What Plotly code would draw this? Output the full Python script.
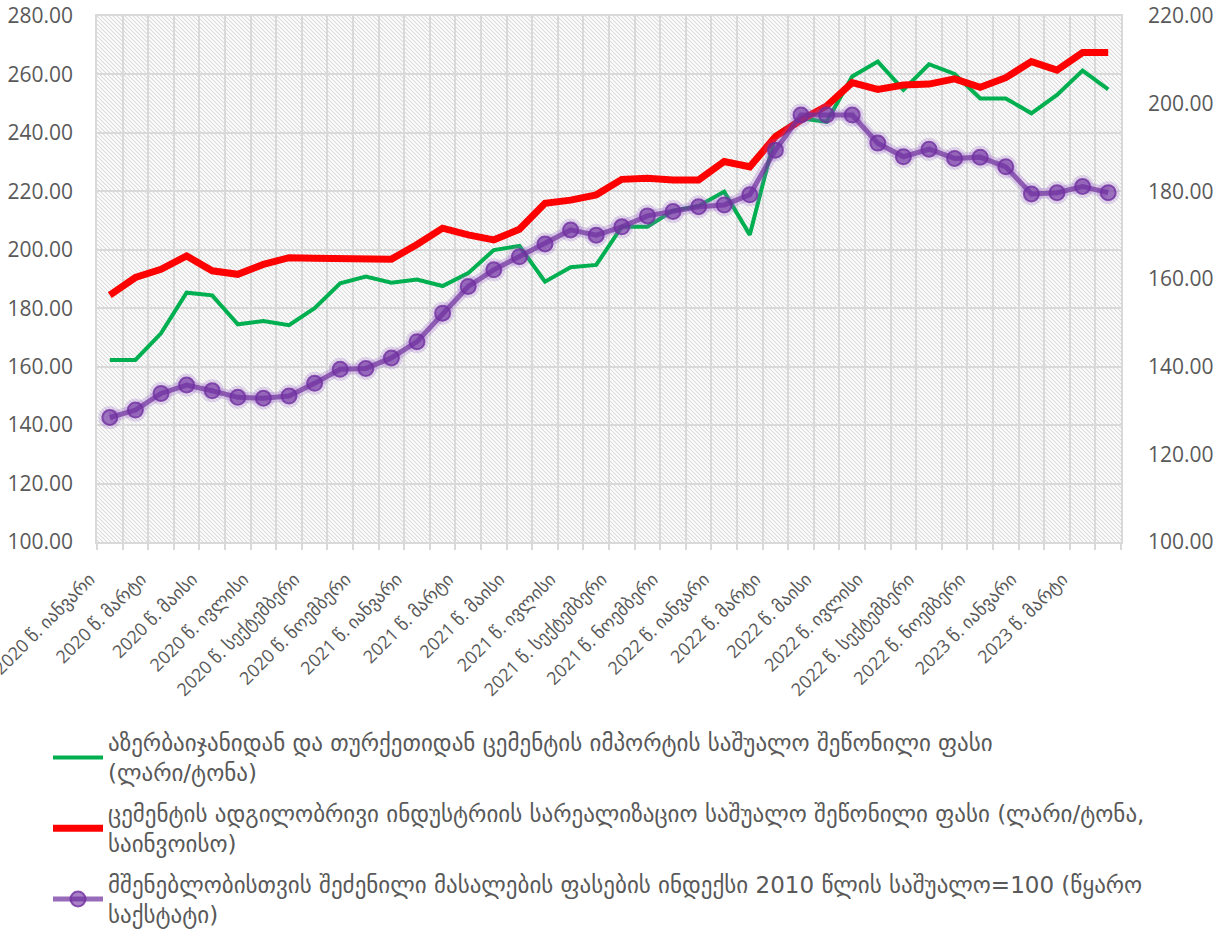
import base64
import plotly.graph_objects as go

# ---------------- data ----------------
years = [2020, 2021, 2022, 2023]
month_names = ["იანვარი", "თებერვალი", "მარტი", "აპრილი", "მაისი", "ივნისი",
               "ივლისი", "აგვისტო", "სექტემბერი", "ოქტომბერი", "ნოემბერი", "დეკემბერი"]
n_points = 40
months = [f"{y} წ. {m}" for y in years for m in month_names][:n_points]

import_price = [162.3, 162.3, 171.4, 185.3, 184.4, 174.5, 175.6, 174.2, 180.0, 188.5,
                190.8, 188.7, 189.8, 187.6, 192.0, 199.9, 201.3, 189.1, 194.0, 194.8,
                207.9, 207.9, 213.4, 215.0, 219.9, 205.1, 239.3, 245.0, 243.8, 259.3,
                264.4, 254.7, 263.5, 260.2, 251.8, 251.8, 246.7, 253.0, 261.3, 254.9]

local_price = [184.5, 190.5, 193.3, 197.9, 192.8, 191.6, 195.0, 197.3, 197.1, 197.1,
               196.8, 196.8, 201.8, 207.4, 205.1, 203.4, 207.0, 215.9, 217.0, 218.8,
               224.1, 224.5, 223.9, 223.9, 230.2, 228.4, 238.7, 244.4, 249.2, 257.2,
               254.9, 256.4, 256.7, 258.5, 255.6, 258.9, 264.4, 261.5, 267.5, 267.5]

material_index = [128.4, 130.1, 133.9, 135.8, 134.5, 133.0, 132.8, 133.3, 136.2, 139.4,
                  139.6, 142.0, 145.7, 152.2, 158.3, 162.1, 165.1, 168.0, 171.2, 170.0,
                  171.9, 174.4, 175.4, 176.5, 176.9, 179.2, 189.4, 197.4, 197.4, 197.4,
                  191.0, 187.9, 189.6, 187.5, 187.8, 185.6, 179.4, 179.7, 181.1, 179.7]

names = [
    "აზერბაიჯანიდან და თურქეთიდან ცემენტის იმპორტის საშუალო შეწონილი ფასი<br>(ლარი/ტონა)",
    "ცემენტის ადგილობრივი ინდუსტრიის სარეალიზაციო საშუალო შეწონილი ფასი (ლარი/ტონა,<br>საინვოისო)",
    "მშენებლობისთვის შეძენილი მასალების ფასების ინდექსი 2010 წლის საშუალო=100 (წყარო<br>საქსტატი)",
]

# ---------------- figure ----------------
W, H = 1224, 931
PL, PR, PT, PB = 97, 1121, 16, 542       # plot-area box in page pixels
ML, MT, MR, MB = PL, PT, W - PR, H - PB
x = list(range(len(months)))

GEO = "DejaVu Sans"
NUM = "Open Sans, DejaVu Sans"
GRID = "#d9d9d9"
TXT = "#595959"

fig = go.Figure()
fig.add_trace(go.Scatter(x=x, y=import_price, name=names[0], mode="lines", legendgroup="a",
                         line=dict(color="#00B050", width=4)))
fig.add_trace(go.Scatter(x=x, y=local_price, name=names[1], mode="lines", legendgroup="b",
                         line=dict(color="#FF0000", width=7)))
# glow for purple series
fig.add_trace(go.Scatter(x=x, y=material_index, yaxis="y2", mode="lines+markers",
                         showlegend=False, hoverinfo="skip", legendgroup="c",
                         line=dict(color="rgba(150,95,200,0.25)", width=11),
                         marker=dict(size=23, color="rgba(150,95,200,0.22)", line=dict(width=0))))
fig.add_trace(go.Scatter(x=x, y=material_index, yaxis="y2", name=names[2], mode="lines+markers",
                         legendgroup="c",
                         line=dict(color="rgba(112,48,160,0.72)", width=5),
                         marker=dict(size=15, color="rgba(112,48,160,0.6)",
                                     line=dict(color="rgba(112,48,160,0.8)", width=2))))

pw, ph = PR - PL, PB - PT
svg = (f'<svg xmlns="http://www.w3.org/2000/svg" width="{pw}" height="{ph}">'
       '<defs><pattern id="p" width="4" height="4" patternUnits="userSpaceOnUse">'
       '<path d="M-1,-1 L5,5 M-1,3 L1,5 M3,-1 L5,1" stroke="#dadada" stroke-width="1.1"/>'
       '</pattern></defs><rect width="100%" height="100%" fill="white"/>'
       '<rect width="100%" height="100%" fill="url(#p)"/></svg>')
src = "data:image/svg+xml;base64," + base64.b64encode(svg.encode()).decode()

fig.update_layout(
    width=W, height=H,
    margin=dict(l=ML, r=MR, t=MT, b=MB, autoexpand=False),
    paper_bgcolor="white", plot_bgcolor="white",
    images=[dict(source=src, xref="paper", yref="paper", x=0, y=1, sizex=1, sizey=1,
                 xanchor="left", yanchor="top", sizing="stretch", layer="below")],
    xaxis=dict(
        range=[-0.5, len(months) - 0.5],
        tickmode="array", tickvals=x[::2], ticktext=months[::2],
        tickangle=-45, tickfont=dict(family=NUM, size=18, color=TXT),
        ticks="", showgrid=False, zeroline=False,
        ticklabelshift=-20, ticklabelstandoff=18, ticklabeloverflow="allow",
        showline=True, linecolor=GRID, linewidth=1.5, mirror=True,
        minor=dict(tickmode="linear", tick0=-0.5, dtick=1, showgrid=True,
                   gridcolor=GRID, gridwidth=1.5, ticks="outside", ticklen=6,
                   tickcolor=GRID, tickwidth=1.5),
    ),
    yaxis=dict(
        range=[100, 280], dtick=20, tickformat=".2f",
        tickfont=dict(family=NUM, size=21, color=TXT),
        showgrid=True, gridcolor=GRID, gridwidth=1.5, zeroline=False,
        showline=True, linecolor=GRID, linewidth=1.5, mirror=True,
        ticks="", ticklabelstandoff=18, ticklabeloverflow="allow",
    ),
    yaxis2=dict(
        range=[100, 220], dtick=20, tickformat=".2f", overlaying="y", side="right",
        tickfont=dict(family=NUM, size=21, color=TXT),
        showgrid=False, zeroline=False, ticks="", ticklabelstandoff=26,
        ticklabeloverflow="allow",
    ),
    legend=dict(
        xref="container", yref="container", x=48 / W, y=1 - 721 / H,
        xanchor="left", yanchor="top", orientation="v",
        font=dict(family=GEO, size=23, color=TXT),
        itemwidth=50, tracegroupgap=8, bgcolor="rgba(0,0,0,0)",
    ),
    showlegend=True,
)

fig.write_html("out.html", config={"displayModeBar": False},
               post_script="document.body.style.margin='0';")
